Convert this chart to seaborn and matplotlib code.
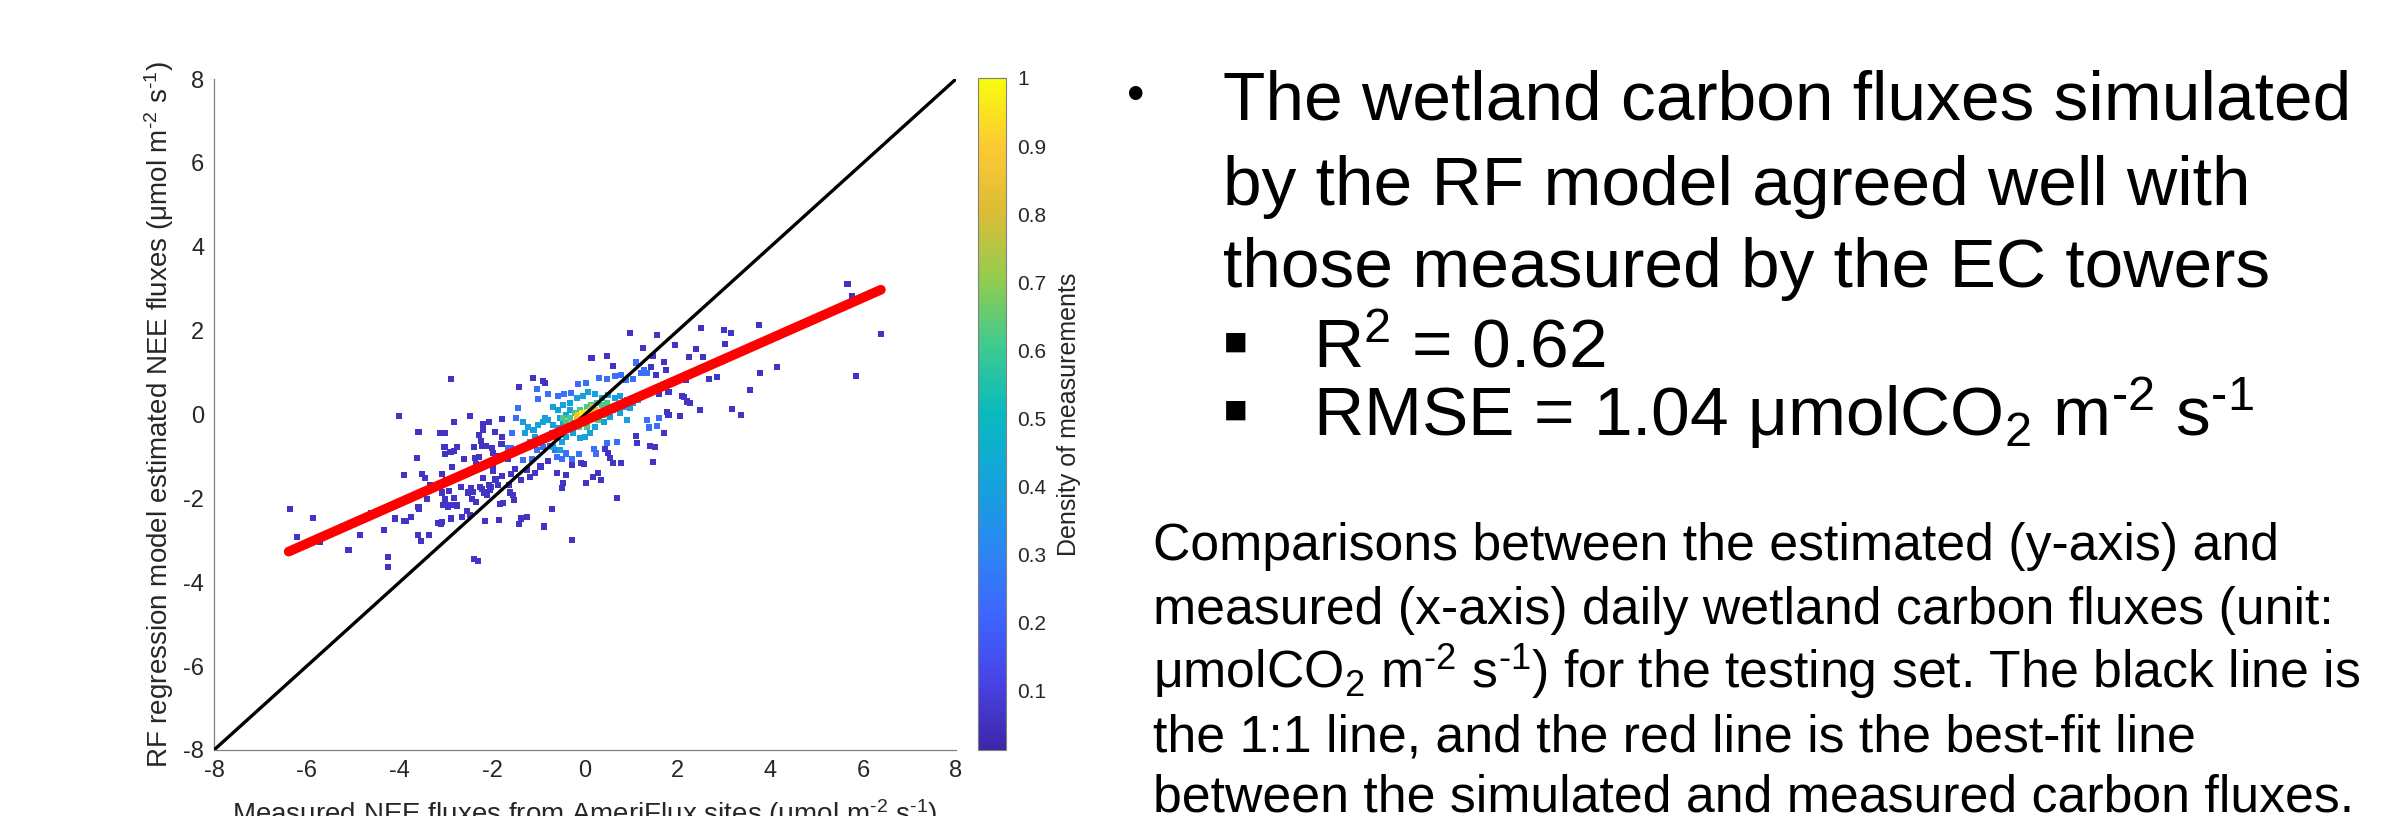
import numpy as np
import pandas as pd
import matplotlib
matplotlib.use('Agg')
import matplotlib.pyplot as plt
from matplotlib.colors import LinearSegmentedColormap, Normalize
from matplotlib.cm import ScalarMappable
import seaborn as sns

# Measured (x) vs RF estimated (y) NEE fluxes, grouped by the density colour of each point
sparse_x = [-2.88, -1.42, -4.01, -2.47, -2.83, -1.78, -2.19, -2.08, -3.59, -3.12, -3.01, -2.29, -2.19, -1.95,
            -2.24, -1.79, -3.03, -2.76, -2.90, -2.83, -2.40, -2.23, -2.14, -2.01, -1.80, -3.02, -2.61, -2.37,
            -2.29, -1.98, -1.85, -3.62, -2.86, -2.36, -1.98, -1.67, -1.51, -3.90, -3.52, -3.44, -3.08, -3.00,
            -2.48, -2.19, -1.99, -1.93, -1.79, -1.60, -3.34, -3.12, -2.67, -2.46, -2.26, -2.06, -2.03, -1.88,
            -1.64, -3.41, -3.08, -3.02, -2.93, -2.82, -2.52, -2.42, -2.23, -2.17, -2.11, -2.05, -1.62, -1.56,
            -1.53, -3.59, -3.57, -3.06, -3.01, -2.96, -2.89, -2.77, -2.55, -2.44, -2.36, -1.83, -1.76, -6.36,
            -5.87, -4.62, -4.10, -3.90, -3.85, -3.76, -3.16, -3.11, -3.08, -2.88, -2.65, -2.47, -2.16, -1.85,
            -1.43, -6.22, -5.72, -4.85, -4.33, -3.61, -3.54, -3.36, -5.10, -4.24, -4.24, -2.39, -2.30,
            0.97, 1.56, 2.50, 3.00, 3.15, 3.75, 1.95, 2.39, 3.02, 1.26, 0.14, 0.48, 1.46, 2.54, 2.25, 1.71,
            0.60, 1.42, 1.74, 1.53, 2.67, 2.85, 2.17, 3.56, -1.13, -0.91, -0.86, 1.60, 1.80, 2.09, 2.13, 2.19,
            2.26, 2.48, 3.18, 3.36, 2.05, 1.77, 1.80, 1.70, 1.09, 1.13, 1.40, 1.50, 0.44, 0.49, 0.54, 0.60,
            0.77, 1.46, -0.09, -0.02, -0.29, -0.80, -0.96, -1.08, -1.19, -1.37, -0.61, -0.40, -0.47, -0.50,
            0.02, 0.17, 0.29, 0.34, 0.69, -0.72, -1.26, -1.37, -0.88, -0.29, -1.26,
            5.66, 5.76, 6.39, 5.84, 4.14, 3.77]
sparse_y = [0.84, 0.65, -0.04, -0.04, -0.17, -0.11, -0.23, -0.19, -0.42, -0.45, -0.43, -0.49, -0.37, -0.42,
            -0.63, -0.53, -0.78, -0.77, -0.89, -0.87, -0.78, -0.75, -0.75, -0.80, -0.70, -0.94, -1.05, -1.03,
            -1.01, -0.91, -0.99, -1.04, -1.26, -1.19, -1.27, -1.07, -1.30, -1.44, -1.41, -1.52, -1.43, -1.56,
            -1.36, -1.51, -1.34, -1.55, -1.47, -1.43, -1.68, -1.74, -1.72, -1.75, -1.72, -1.68, -1.74, -1.67,
            -1.68, -2.02, -1.86, -2.02, -1.82, -1.98, -1.86, -1.84, -1.78, -1.86, -1.92, -1.80, -1.86, -1.92,
            -2.05, -2.20, -2.26, -2.16, -2.06, -2.20, -2.15, -2.17, -2.30, -2.01, -2.08, -2.14, -2.12, -2.26,
            -2.46, -2.36, -2.48, -2.53, -2.54, -2.44, -2.58, -2.61, -2.56, -2.48, -2.45, -2.40, -2.55, -2.52,
            -2.60, -2.91, -3.05, -2.87, -2.75, -2.87, -3.02, -2.87, -3.23, -3.40, -3.63, -3.44, -3.49,
            1.94, 1.90, 2.07, 2.01, 1.94, 2.13, 1.66, 1.56, 1.67, 1.58, 1.34, 1.40, 1.40, 1.36, 1.38, 1.26,
            1.16, 1.14, 1.06, 0.94, 0.84, 0.90, 0.82, 0.58, 0.87, 0.81, 0.76, 0.50, 0.54, 0.45, 0.41, 0.31,
            0.27, 0.11, 0.14, -0.01, -0.04, 0.07, -0.01, -0.43, -0.51, -0.69, -0.75, -0.77, -0.82, -0.92, -1.04, -1.16,
            -1.16, -1.13, -1.16, -1.18, -1.20, -1.12, -1.24, -1.40, -1.48, -1.56, -1.40, -1.44, -1.64, -1.76,
            -1.64, -1.48, -1.39, -1.56, -1.98, -2.26, -2.44, -2.48, -2.67, -2.99, -1.32,
            3.11, 2.82, 1.92, 0.91, 1.14, 0.98]

near_x = [-1.44, -1.49, -1.57, -1.67, -1.60, 1.09, 1.20, 1.34, 1.27, 0.31, 0.47, 0.65, 0.78, 0.88, 1.04,
          -1.04, -1.01, -0.79, -0.59, -0.45, -0.30, -0.16, 0.02, 1.33, 1.60, 1.56, 1.39, 0.69, 0.47, 0.24,
          0.20, -0.12, -0.40, -0.29, -0.50, -0.61, -1.15, -1.04, -0.90, -0.75, -0.65, -1.33]
near_y = [0.16, -0.08, -0.43, -0.79, -0.79, 1.24, 1.00, 1.00, 1.06, 0.88, 0.84, 0.92, 0.95, 0.82, 0.84,
          0.61, 0.38, 0.49, 0.43, 0.50, 0.51, 0.72, 0.76, -0.12, -0.09, -0.27, -0.31, -0.65, -0.69, -0.93,
          -0.83, -0.95, -0.93, -1.07, -1.05, -1.02, -1.05, -0.85, -0.77, -0.75, -0.85, -1.09]

band_x = [-1.33, -1.22, -1.29, -1.11, -1.01, -0.90, -0.79, -0.68, -0.58, -0.47, -1.08, -0.97, -0.83, -0.72,
          -0.61, -0.50, -0.40, -1.19, -1.26, -0.68, -0.54, -0.58, -0.47, -0.32, -0.18, -0.04, 0.07, 0.22,
          0.36, 0.50, 0.65, 0.75, 0.90, 1.04, 1.15, 0.97, 0.83, 0.75, 0.90, 0.54, 0.40, 0.22, 0.11, 0.00,
          -0.11, -0.25, -0.32, 0.50, 0.61, 0.75, -0.32, -0.40, -0.54, -0.68, -0.86]
band_y = [-0.17, -0.29, -0.45, -0.37, -0.25, -0.19, -0.13, -0.25, -0.33, -0.21, -0.53, -0.65, -0.57, -0.45,
          -0.53, -0.65, -0.53, -0.65, -0.77, -0.77, -0.85, 0.11, 0.23, 0.27, 0.39, 0.43, 0.54, 0.50,
          0.39, 0.46, 0.39, 0.43, 0.35, 0.27, 0.35, 0.15, 0.19, 0.03, -0.13, -0.05, -0.17, -0.29, -0.45, -0.53,
          -0.57, -0.45, -0.33, 0.19, 0.11, 0.23, 0.11, -0.01, -0.09, 0.19, -0.09]

mid_x = [-0.32, -0.22, -0.11, 0.04, 0.14, 0.25, 0.36, 0.47, -0.40, -0.25, -0.14, -0.04, 0.32, 0.40, 0.18,
         -0.47, 0.04, 0.29]
mid_y = [-0.09, 0.03, 0.11, 0.19, 0.23, 0.27, 0.23, 0.27, -0.17, -0.21, -0.29, -0.21, 0.07, -0.01, -0.05,
         -0.09, -0.29, -0.13]

core_x = [-0.14, 0.14, -0.18, 0.11, 0.22, -0.11, 0.18]
core_y = [-0.01, 0.11, -0.05, 0.01, 0.11, -0.13, 0.19]

peak_x = [-0.07, 0.00, 0.07, 0.04, -0.04]
peak_y = [0.03, -0.01, 0.07, -0.05, -0.09]

group_density = {'sparse': 0.06, 'near': 0.24, 'band': 0.40, 'mid': 0.62, 'core': 0.85, 'peak': 0.97}

# best-fit line
fit_slope = 0.489
fit_intercept = -0.145
fit_x = [-6.39, 6.38]
one_to_one = [-8, 8]

axis_ticks = [-8, -6, -4, -2, 0, 2, 4, 6, 8]
cbar_ticks = [0.1, 0.2, 0.3, 0.4, 0.5, 0.6, 0.7, 0.8, 0.9, 1.0]
cbar_labels = ['0.1', '0.2', '0.3', '0.4', '0.5', '0.6', '0.7', '0.8', '0.9', '1']
cbar_min = 0.013

# MATLAB parula, approximated by anchor colours
parula = LinearSegmentedColormap.from_list('parula', [
    (0.2422, 0.1504, 0.6603), (0.2780, 0.2640, 0.9000), (0.2430, 0.4000, 0.9980),
    (0.1700, 0.5300, 0.9500), (0.0800, 0.6400, 0.8600), (0.0300, 0.7300, 0.7500),
    (0.2400, 0.7900, 0.5700), (0.5700, 0.8000, 0.3100), (0.8600, 0.7400, 0.2100),
    (0.9900, 0.7900, 0.2000), (0.9763, 0.9831, 0.0538)])

groups = {'sparse': (sparse_x, sparse_y), 'near': (near_x, near_y), 'band': (band_x, band_y),
          'mid': (mid_x, mid_y), 'core': (core_x, core_y), 'peak': (peak_x, peak_y)}
frames = []
for name, (gx, gy) in groups.items():
    frames.append(pd.DataFrame({'x': gx, 'y': gy, 'density': group_density[name]}))
df = pd.concat(frames, ignore_index=True).sort_values('density')

sns.set_theme(style='white')
plt.rcParams['font.family'] = ['Liberation Sans', 'DejaVu Sans']
plt.rcParams['mathtext.fontset'] = 'custom'
plt.rcParams['mathtext.rm'] = 'Liberation Sans'
plt.rcParams['mathtext.it'] = 'Liberation Sans:italic'
plt.rcParams['mathtext.default'] = 'regular'
plt.rcParams['axes.unicode_minus'] = False

W, H = 2388, 816
fig = plt.figure(figsize=(W / 100, H / 100), dpi=100)
fig.patch.set_facecolor('white')

ax = fig.add_axes([214 / W, 1 - 750 / H, 742 / W, 671 / H])
sns.scatterplot(data=df, x='x', y='y', hue='density', palette=parula, hue_norm=(cbar_min, 1.0),
                marker='s', s=19, linewidth=0, legend=False, ax=ax, zorder=2)
ax.plot(one_to_one, one_to_one, color='black', lw=2.4, zorder=3)
fx = np.array(fit_x)
ax.plot(fx, fit_slope * fx + fit_intercept, color='#ff0000', lw=7, solid_capstyle='round', zorder=4)

ax.set_xlim(-8, 8)
ax.set_ylim(-8, 8)
ax.set_xticks(axis_ticks)
ax.set_yticks(axis_ticks)
ax.tick_params(direction='in', length=6, width=0.8, color='#808080', labelcolor='#262626',
               labelsize=17, pad=7)
for side in ['top', 'right']:
    ax.spines[side].set_visible(False)
for side in ['left', 'bottom']:
    ax.spines[side].set_color('#808080')
    ax.spines[side].set_linewidth(0.9)
ax.set_xlabel(r'Measured NEE fluxes from AmeriFlux sites ($\mu$mol m$^{\text{-}2}$ s$^{\text{-}1}$)',
              fontsize=20, color='#262626', labelpad=11)
ax.set_ylabel(r'RF regression model estimated NEE fluxes ($\mu$mol m$^{\text{-}2}$ s$^{\text{-}1}$)',
              fontsize=20, color='#262626', labelpad=5)

cax = fig.add_axes([978 / W, 1 - 750 / H, 28 / W, 672 / H])
cb = fig.colorbar(ScalarMappable(norm=Normalize(cbar_min, 1.0), cmap=parula), cax=cax)
cb.set_ticks(cbar_ticks)
cb.set_ticklabels(cbar_labels)
cb.ax.tick_params(direction='in', length=7, width=0.8, color='#404040', labelcolor='#262626',
                  labelsize=15, pad=8)
cb.outline.set_edgecolor('#808080')
cb.outline.set_linewidth(0.8)
cb.set_label('Density of measurements', fontsize=18, color='#262626', labelpad=8)

# slide text on the right
fam = ['Liberation Sans', 'DejaVu Sans']
def put(x, y, s, size):
    fig.text(x / W, 1 - y / H, s, fontsize=size, family=fam, va='baseline', ha='left', color='black')

put(1127, 110, '\u2022', 36)
put(1223, 120, 'The wetland carbon fluxes simulated', 50)
put(1223, 205, 'by the RF model agreed well with', 50)
put(1223, 287, 'those measured by the EC towers', 50)
put(1222, 367, '\u25aa', 56)
put(1313, 368, r'R$^2$ = 0.62', 50)
put(1222, 435, '\u25aa', 56)
put(1313, 436, r'RMSE = 1.04 μmolCO$_2$ m$^{\text{-}2}$ s$^{\text{-}1}$', 50)

put(1153, 560, 'Comparisons between the estimated (y-axis) and', 37.3)
put(1153, 624, 'measured (x-axis) daily wetland carbon fluxes (unit:', 37.3)
put(1153, 688, r'μmolCO$_2$ m$^{\text{-}2}$ s$^{\text{-}1}$) for the testing set. The black line is', 37.3)
put(1153, 752, 'the 1:1 line, and the red line is the best-fit line', 37.3)
put(1153, 812, 'between the simulated and measured carbon fluxes.', 37.3)

fig.savefig('out.png', dpi=100)
